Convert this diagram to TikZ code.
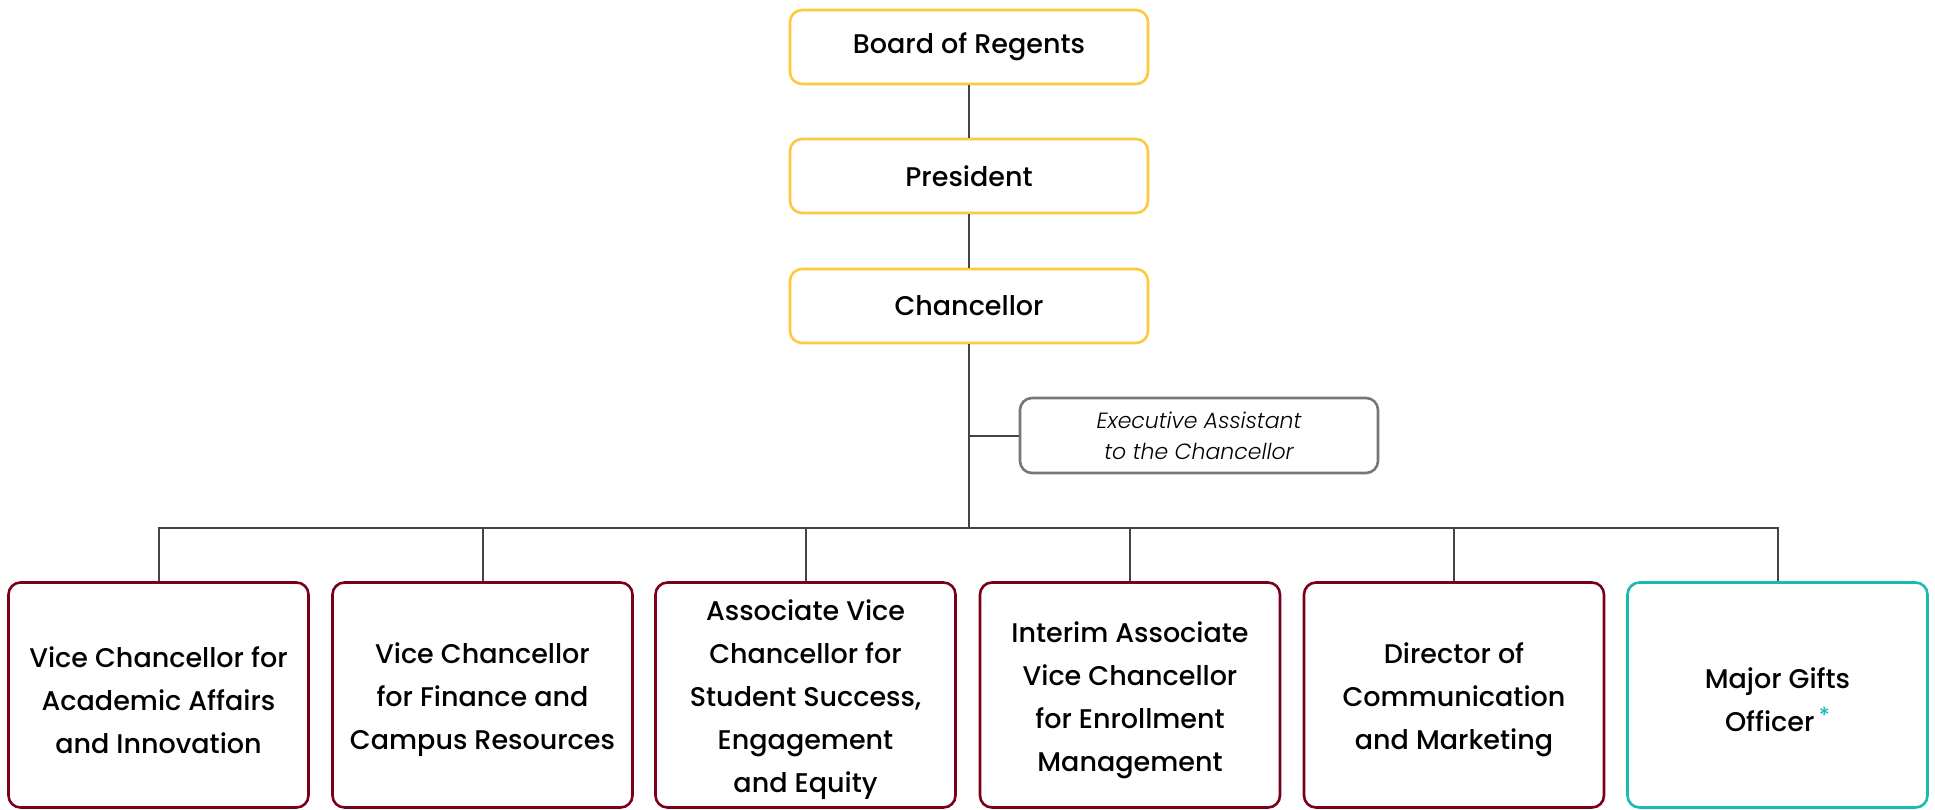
\documentclass[tikz,border=0pt]{standalone}
\usepackage{fontspec}
\setmainfont{Poppins}[UprightFont={* Medium}, ItalicFont={* Light Italic}]
\definecolor{gold}{HTML}{FFC93C}
\definecolor{maroon}{HTML}{7A0019}
\definecolor{teal}{HTML}{1CB8B4}
\definecolor{greybox}{HTML}{777777}
\definecolor{linegrey}{HTML}{444444}
\newcommand{\vstrut}{\rule{0pt}{31pt}}
\tikzset{
  basebox/.style={rounded corners=12pt, line width=2.6pt, fill=white, align=center, inner sep=0pt, text=black},
  topbox/.style={basebox, draw=gold, minimum width=358pt, minimum height=74pt, font=\fontsize{27}{34}\selectfont},
  execbox/.style={basebox, draw=greybox, minimum width=358pt, minimum height=75pt, font=\fontsize{22}{31}\selectfont\itshape},
  vcbox/.style={basebox, draw=maroon, minimum width=300pt, minimum height=225pt, font=\fontsize{27}{43}\selectfont},
  giftbox/.style={vcbox, draw=teal},
  conn/.style={draw=linegrey, line width=2pt}
}
\begin{document}
\begin{tikzpicture}[x=1pt,y=-1pt]
\useasboundingbox (0,0) rectangle (1935,809);
\node[topbox] (board) at (969,47) {Board of Regents};
\node[topbox] (pres) at (969,176) {President};
\node[topbox] (chan) at (969,306) {Chancellor};
\node[execbox] (exec) at (1199,435.5) {Executive Assistant\\to the Chancellor};
\coordinate (bus) at (969,528);
\node[vcbox] (vc1) at (158.5,695) {\vstrut Vice Chancellor for\\Academic Affairs\\and Innovation};
\node[vcbox] (vc2) at (482.5,695) {\vstrut Vice Chancellor\\for Finance and\\Campus Resources};
\node[vcbox] (vc3) at (805.5,695) {\vstrut Associate Vice\\Chancellor for\\Student Success,\\Engagement\\and Equity};
\node[vcbox] (vc4) at (1130,695) {\vstrut Interim Associate\\Vice Chancellor\\for Enrollment\\Management};
\node[vcbox] (vc5) at (1454,695) {\vstrut Director of\\Communication\\and Marketing};
\node[giftbox] (vc6) at (1777.5,695) {\vstrut Major Gifts\\Officer\,\textcolor{teal}{\raisebox{0.3em}{\fontsize{22}{22}\selectfont*}}};
\draw[conn] (board.south) -- (pres.north);
\draw[conn] (pres.south) -- (chan.north);
\draw[conn] (chan.south) -- (bus);
\draw[conn] (exec.west) -- (exec.west -| bus);
\foreach \n in {vc1,vc2,vc3,vc4,vc5,vc6} {
  \draw[conn] (bus) -| (\n.north);
}
\end{tikzpicture}
\end{document}
